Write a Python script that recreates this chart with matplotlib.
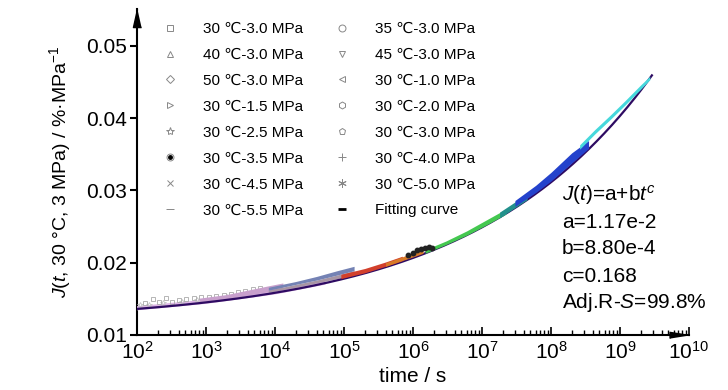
import numpy as np
import matplotlib.pyplot as plt
from matplotlib.lines import Line2D
from matplotlib.ticker import FormatStrFormatter, LogLocator

plt.rcParams['font.family'] = ['Liberation Sans', 'DejaVu Sans']
plt.rcParams['mathtext.fontset'] = 'custom'
plt.rcParams['mathtext.rm'] = 'Liberation Sans'
plt.rcParams['mathtext.it'] = 'Liberation Sans:italic'

# fitted model J(t) = a + b*t^c
a_fit, b_fit, c_fit = 1.17e-2, 8.80e-4, 0.168
t_end = 2.9e9

# legend entries
left_labels = ['30 ℃-3.0 MPa', '40 ℃-3.0 MPa', '50 ℃-3.0 MPa', '30 ℃-1.5 MPa',
               '30 ℃-2.5 MPa', '30 ℃-3.5 MPa', '30 ℃-4.5 MPa', '30 ℃-5.5 MPa']
right_labels = ['35 ℃-3.0 MPa', '45 ℃-3.0 MPa', '30 ℃-1.0 MPa', '30 ℃-2.0 MPa',
                '30 ℃-3.0 MPa', '30 ℃-4.0 MPa', '30 ℃-5.0 MPa', 'Fitting curve']

# scattered early points
sq_t = [1.3e2, 1.7e2, 2.1e2, 2.6e2, 3.2e2, 4.0e2, 5.2e2, 6.6e2, 8.5e2, 1.1e3,
        1.4e3, 1.8e3, 2.3e3, 2.9e3, 3.7e3, 4.8e3, 6.0e3]
sq_J = [0.0144, 0.0150, 0.0146, 0.0151, 0.0146, 0.0149, 0.0150, 0.0151, 0.0152,
        0.0153, 0.0154, 0.0155, 0.0157, 0.0160, 0.0161, 0.0163, 0.0165]
st_t = [1.1e2, 1.5e2, 2.4e2, 4.5e2, 7.5e2, 1.2e3, 2.0e3, 3.2e3]
st_J = [0.0141, 0.0142, 0.0144, 0.0146, 0.0148, 0.0150, 0.0152, 0.0155]

# shifted segments of the master curve (time, lower edge, upper edge)
lav_t = [1.0e2, 1.0e3, 1.0e4, 5.0e4]
lav_J = [0.0137, 0.0146, 0.0159, 0.0172]

pink_t = [8e2, 2e3, 4e3, 8e3, 1.3e4]
pink_lo = [0.0146, 0.0150, 0.0155, 0.0160, 0.0164]
pink_hi = [0.0151, 0.0156, 0.0162, 0.0168, 0.0172]

gb_t = [8e3, 2e4, 4e4, 8e4, 1.4e5]
gb_lo = [0.0159, 0.0166, 0.0172, 0.0178, 0.0184]
gb_mid = [0.0162, 0.0170, 0.0176, 0.0183, 0.0189]
gb_hi = [0.0166, 0.0174, 0.0181, 0.0189, 0.0195]

red_t = [9e4, 2.0e5, 4.0e5, 7.0e5]
red_lo = [0.0178, 0.0186, 0.0195, 0.0203]
red_hi = [0.0184, 0.0192, 0.0201, 0.0209]

org_t = [4e5, 7e5, 1.0e6, 1.4e6]
org_lo = [0.0195, 0.0203, 0.0208, 0.0213]
org_hi = [0.0200, 0.0208, 0.0214, 0.0219]

bk_t = [8.5e5, 1.0e6, 1.15e6, 1.3e6, 1.5e6, 1.7e6, 1.9e6]
bk_J = [0.0210, 0.0214, 0.0217, 0.0219, 0.0221, 0.0222, 0.0221]

grn_t = [1.5e6, 3e6, 6e6, 1.2e7, 2.2e7]
grn_lo = [0.0213, 0.0225, 0.0238, 0.0253, 0.0267]
grn_hi = [0.0218, 0.0230, 0.0244, 0.0260, 0.0274]

teal_t = [1.8e7, 3e7, 4.5e7]
teal_lo = [0.0262, 0.0276, 0.0287]
teal_hi = [0.0270, 0.0284, 0.0296]

blu_t = [3e7, 6e7, 1e8, 2e8, 3.5e8]
blu_lo = [0.0278, 0.0297, 0.0313, 0.0338, 0.0358]
blu_hi = [0.0286, 0.0307, 0.0325, 0.0352, 0.0369]

cyan_t = [2.6e8, 4.3e8, 7.2e8, 1.18e9, 1.95e9, 2.7e9]
cyan_lo = [0.0357, 0.0378, 0.0398, 0.0418, 0.0439, 0.0453]
cyan_hi = [0.0363, 0.0384, 0.0404, 0.0424, 0.0445, 0.0458]

fig = plt.figure(figsize=(7.28, 3.90), dpi=100)
ax = fig.add_axes([137 / 728, 55 / 390, 552 / 728, 326 / 390])

# fitting curve
t_fit = np.logspace(2, np.log10(t_end), 400)
ax.plot(t_fit, a_fit + b_fit * t_fit ** c_fit, color='#2e0b62', lw=1.6, zorder=4)

# data bands
ax.plot(lav_t, lav_J, color='#dcb4e4', lw=3, zorder=3)
ax.plot(st_t, st_J, ls='none', marker='*', ms=4, mfc='none', mec='#c4c4c4', mew=0.6, zorder=3)
ax.plot(sq_t, sq_J, ls='none', marker='s', ms=3.5, mfc='none', mec='#aaaaaa', mew=0.6, zorder=3)
ax.fill_between(pink_t, pink_lo, pink_hi, color='#c8a0cc', lw=0, zorder=3)
ax.fill_between(gb_t, gb_lo, gb_mid, color='#a896a4', lw=0, zorder=3)
ax.fill_between(gb_t, gb_mid, gb_hi, color='#7482b4', lw=0, zorder=3)
ax.fill_between(red_t, red_lo, red_hi, color='#d2402c', lw=0, zorder=5)
ax.fill_between(org_t, org_lo, org_hi, color='#d87a28', lw=0, zorder=5)
ax.plot(bk_t, bk_J, ls='none', marker='o', ms=3.2, color='#222222', zorder=6)
ax.fill_between(grn_t, grn_lo, grn_hi, color='#44c850', lw=0, zorder=5)
ax.fill_between(teal_t, teal_lo, teal_hi, color='#22908c', lw=0, zorder=5)
ax.fill_between(blu_t, blu_lo, blu_hi, color='#2442cc', lw=0, zorder=5)
ax.fill_between(cyan_t, cyan_lo, cyan_hi, color='#46d8dc', lw=0, zorder=5)

# axes
ax.set_xscale('log')
ax.set_xlim(1e2, 1e10)
ax.set_ylim(0.01, 0.01 + 326 / 7230)
ax.set_yticks([0.01, 0.02, 0.03, 0.04, 0.05])
ax.yaxis.set_major_formatter(FormatStrFormatter('%.2f'))
ax.xaxis.set_major_locator(LogLocator(base=10, numticks=20))
ax.xaxis.set_minor_locator(LogLocator(base=10, subs=np.arange(2, 10), numticks=20))
for s in ['top', 'right']:
    ax.spines[s].set_visible(False)
for s in ['left', 'bottom']:
    ax.spines[s].set_linewidth(1.5)
ax.tick_params(axis='y', direction='out', length=5, width=1.5, labelsize=15, pad=2)
ax.tick_params(axis='x', which='major', direction='in', length=6, width=1.2, labelsize=15, pad=4)
ax.tick_params(axis='x', which='minor', direction='in', length=3.5, width=1.0)

# arrow heads on the axes
ax.plot(0, 1, marker=[(0, 0), (-0.45, -2), (0.45, -2)], ms=26, color='k',
        transform=ax.transAxes, clip_on=False, zorder=10)
ax.plot(1, 0, marker=[(0, 0), (-2, 0.32), (-2, -0.32)], ms=28, color='k',
        transform=ax.transAxes, clip_on=False, zorder=10)

ax.set_xlabel('time / s', fontsize=15, labelpad=3)
ax.set_ylabel(r'$\mathit{J}(\mathit{t}$, 30 °C, 3 MPa) / %·MPa$^{\mathregular{-1}}$',
              fontsize=14, labelpad=10)

# legend with proxy handles
g = '#888888'
kw = dict(ls='none', mfc='none', mec=g, mew=0.7, ms=5)
left_h = [Line2D([], [], marker='s', **kw), Line2D([], [], marker='^', **kw),
          Line2D([], [], marker='D', **dict(kw, ms=4)), Line2D([], [], marker='>', **kw),
          Line2D([], [], marker='*', **dict(kw, ms=6)),
          (Line2D([], [], marker='o', **kw), Line2D([], [], ls='none', marker='o', ms=2.5, color='k')),
          Line2D([], [], marker='x', **kw), Line2D([], [], marker='_', **dict(kw, ms=6))]
right_h = [Line2D([], [], marker='o', **kw), Line2D([], [], marker='v', **kw),
           Line2D([], [], marker='<', **kw), Line2D([], [], marker='h', **kw),
           Line2D([], [], marker='p', **kw), Line2D([], [], marker='+', **dict(kw, ms=6)),
           Line2D([], [], marker=(6, 2, 0), **dict(kw, ms=6)),
           Line2D([], [], ls='none', marker='_', ms=6, mew=2, color='k')]
fig.legend(left_h + right_h, left_labels + right_labels, ncol=2,
           loc='upper left', bbox_to_anchor=(162 / 728, 1 - 22 / 390),
           frameon=False, fontsize=11, handlelength=1.0, handletextpad=1.7,
           columnspacing=2.0, labelspacing=0.78, borderpad=0, borderaxespad=0)

# fit annotation
fit_lines = [r'$\mathit{J}(\mathit{t})$=a+b$\mathit{t}^{\mathit{c}}$', 'a=1.17e-2', 'b=8.80e-4',
             'c=0.168', r'Adj.R-$\mathit{S}$=99.8%']
for i, s in enumerate(fit_lines):
    fig.text(562 / 728, 1 - (195 + 27 * i) / 390, s, fontsize=15, va='center', ha='left')

fig.savefig('out.png', dpi=100)
